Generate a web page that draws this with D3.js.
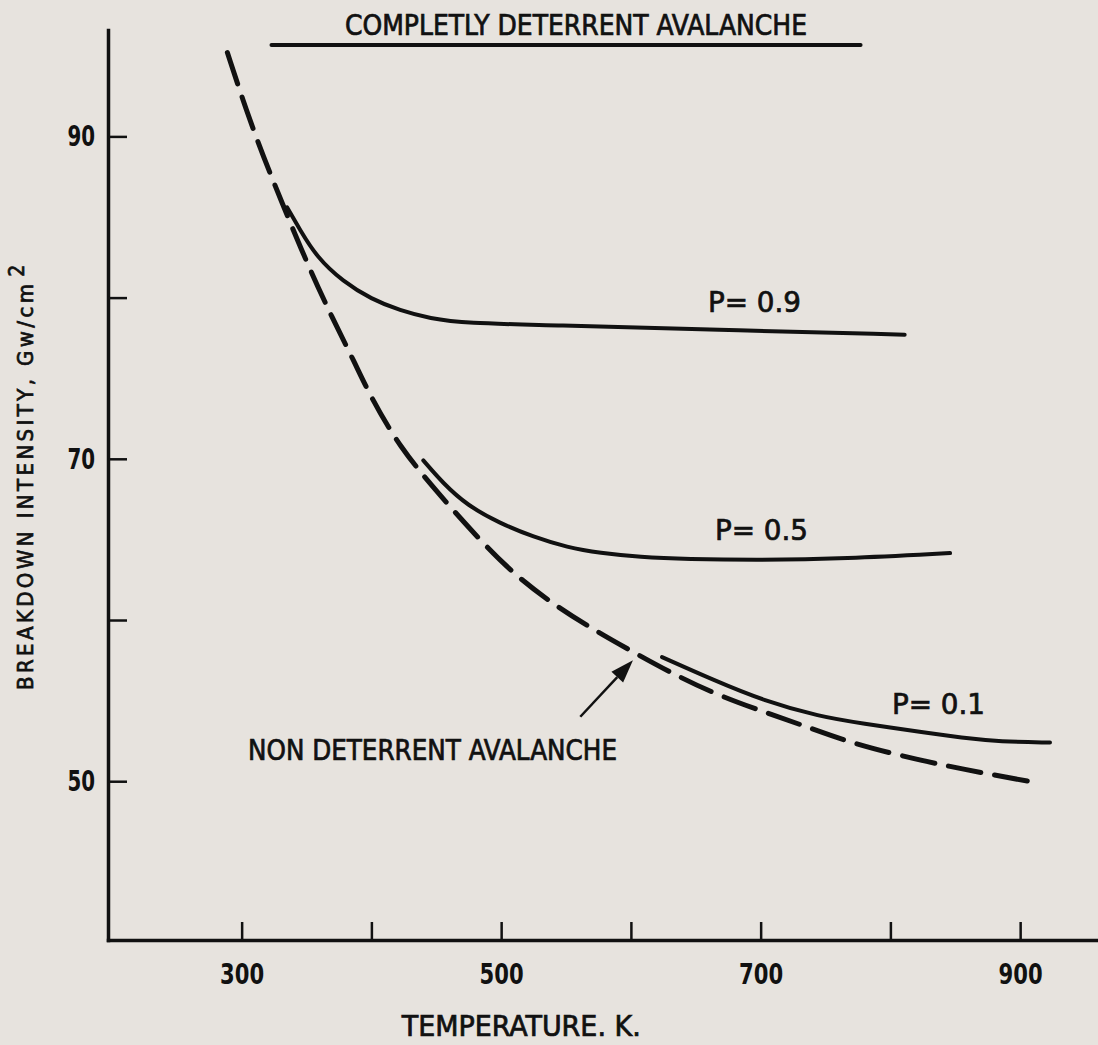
<!DOCTYPE html>
<html>
<head>
<meta charset="utf-8">
<script src="https://cdn.jsdelivr.net/npm/d3@7"></script>
<style>
  html, body { margin: 0; padding: 0; background: #e7e3de; }
  svg { display: block; }
  text { font-family: "DejaVu Sans Condensed", "Liberation Sans Narrow", sans-serif; fill: #111; }
  .lbl { stroke: #111; stroke-width: 0.7px; }
</style>
</head>
<body>
<svg id="chart" width="1098" height="1045"></svg>
<script>
// ---- data ----
const xTickValues = [300, 400, 500, 600, 700, 800, 900];
const xTickLabels = ["300", "", "500", "", "700", "", "900"];
const yTickValues = [50, 60, 70, 80, 90];
const yTickLabels = ["50", "", "70", "", "90"];

// Non deterrent avalanche (dashed)
const ndT = [289, 304, 317, 330, 350, 370, 387, 399, 422, 451, 482, 509, 538, 569, 602, 636, 671, 710, 738, 769, 807, 846, 879, 913];
const ndI = [95.2, 91.5, 88.7, 86.1, 82.2, 78.7, 76.0, 73.9, 70.7, 67.9, 65.1, 62.9, 61.1, 59.5, 58.0, 56.5, 55.2, 54.1, 53.3, 52.4, 51.6, 50.9, 50.4, 49.9];

// P = 0.9
const p9T = [335, 345, 358, 378, 400, 422, 445, 473, 537, 665, 811];
const p9I = [85.6, 84.2, 82.5, 81.0, 79.9, 79.2, 78.7, 78.4, 78.3, 78.0, 77.7];

// P = 0.5
const p5T = [440, 455, 474, 499, 525, 551, 576, 607, 643, 700, 764, 846];
const p5I = [69.9, 68.5, 67.1, 66.0, 65.15, 64.5, 64.15, 63.9, 63.78, 63.72, 63.8, 64.15];

// P = 0.1
const p1T = [624, 663, 702, 746, 777, 828, 854, 885, 923];
const p1I = [57.7, 56.3, 55.0, 54.0, 53.6, 53.0, 52.7, 52.45, 52.4];

// Completely deterrent avalanche bar (T range, level)
const cdT = [323, 777];
const cdI = 95.67;

// Arrow for non deterrent label (tail -> tip)
const arrowT = [561, 601.6];
const arrowI = [54.0, 57.5];

const curveLabels = ["P= 0.9", "P= 0.5", "P= 0.1"];
const curveLabelT = [659.4, 664.8, 801.2];
const curveLabelI = [79.1, 64.96, 54.17];

// ---- drawing ----
const svg = d3.select("#chart");
svg.append("rect").attr("width", 1098).attr("height", 1045).attr("fill", "#e7e3de");

const x = d3.scaleLinear().domain([197, 960]).range([108, 1098]);
const y = d3.scaleLinear().domain([40.15, 96.6]).range([940, 30]);

const ink = "#111";

// axes
const xAxis = d3.axisBottom(x)
  .tickValues(xTickValues)
  .tickFormat((d, i) => xTickLabels[i])
  .tickSizeInner(-18).tickSizeOuter(0).tickPadding(23);
const gx = svg.append("g").attr("transform", `translate(0,${y(40.15)})`).call(xAxis);
gx.select(".domain").attr("stroke", ink).attr("stroke-width", 3.5);
gx.selectAll(".tick line").attr("stroke", ink).attr("stroke-width", 2.5);
gx.selectAll(".tick text").attr("font-size", 29).attr("font-weight", "bold").attr("fill", ink)
  .attr("font-family", "DejaVu Sans Condensed")
  .attr("textLength", d => xTickLabels[xTickValues.indexOf(d)].length * 14.7)
  .attr("lengthAdjust", "spacingAndGlyphs");

const yAxis = d3.axisLeft(y)
  .tickValues(yTickValues)
  .tickFormat((d, i) => yTickLabels[i])
  .tickSizeInner(-19).tickSizeOuter(0).tickPadding(13);
const gy = svg.append("g").attr("transform", `translate(${x(197)},0)`).call(yAxis);
gy.select(".domain").attr("stroke", ink).attr("stroke-width", 3.5);
gy.selectAll(".tick line").attr("stroke", ink).attr("stroke-width", 2.5);
gy.selectAll(".tick text").attr("font-size", 29).attr("font-weight", "bold").attr("fill", ink)
  .attr("font-family", "DejaVu Sans Condensed")
  .attr("textLength", d => yTickLabels[yTickValues.indexOf(d)].length * 13.8)
  .attr("lengthAdjust", "spacingAndGlyphs");
svg.selectAll(".domain").attr("stroke-linecap", "square");

// axis titles
svg.append("text").attr("class", "lbl")
  .attr("x", x(515.5)).attr("y", 1036)
  .attr("text-anchor", "middle")
  .attr("font-size", 28)
  .attr("textLength", 239).attr("lengthAdjust", "spacingAndGlyphs")
  .text("TEMPERATURE. K.");

const yl = svg.append("text").attr("class", "lbl")
  .attr("transform", "translate(33,690) rotate(-90)")
  .attr("font-size", 22);
yl.append("tspan").attr("textLength", 406).attr("lengthAdjust", "spacing").text("BREAKDOWN INTENSITY, Gw/cm");
yl.append("tspan").attr("dx", 4).attr("dy", -9).attr("font-size", 21).text("2");

// curves
const line = d3.line().x(d => x(d[0])).y(d => y(d[1])).curve(d3.curveBasis);
const zip = (a, b) => a.map((v, i) => [v, b[i]]);

svg.append("path").datum(zip(ndT, ndI))
  .attr("d", line).attr("fill", "none").attr("stroke", ink)
  .attr("stroke-width", 5).attr("stroke-dasharray", "33,14").attr("stroke-linecap", "round");

[[p9T, p9I], [p5T, p5I], [p1T, p1I]].forEach(([t, v]) => {
  svg.append("path").datum(zip(t, v))
    .attr("d", line).attr("fill", "none").attr("stroke", ink)
    .attr("stroke-width", 4).attr("stroke-linecap", "round");
});

// completely deterrent bar
svg.append("line")
  .attr("x1", x(cdT[0])).attr("x2", x(cdT[1]))
  .attr("y1", y(cdI)).attr("y2", y(cdI))
  .attr("stroke", ink).attr("stroke-width", 4).attr("stroke-linecap", "round");
svg.append("text").attr("class", "lbl")
  .attr("x", x(557.7)).attr("y", y(cdI) - 10)
  .attr("text-anchor", "middle")
  .attr("font-size", 28)
  .attr("textLength", 462).attr("lengthAdjust", "spacingAndGlyphs")
  .text("COMPLETLY DETERRENT AVALANCHE");

// curve labels
curveLabels.forEach((s, i) => {
  svg.append("text").attr("class", "lbl")
    .attr("x", x(curveLabelT[i])).attr("y", y(curveLabelI[i]))
    .attr("font-size", 29)
    .attr("textLength", 93).attr("lengthAdjust", "spacingAndGlyphs")
    .text(s);
});

// non deterrent label + arrow
svg.append("text").attr("class", "lbl")
  .attr("x", x(304.9)).attr("y", y(51.32))
  .attr("font-size", 28)
  .attr("textLength", 369).attr("lengthAdjust", "spacingAndGlyphs")
  .text("NON DETERRENT AVALANCHE");

const ax0 = x(arrowT[0]), ay0 = y(arrowI[0]), ax1 = x(arrowT[1]), ay1 = y(arrowI[1]);
const ang = Math.atan2(ay1 - ay0, ax1 - ax0);
const headLen = 23, headW = 8;
const bx = ax1 - headLen * Math.cos(ang), by = ay1 - headLen * Math.sin(ang);
svg.append("line").attr("x1", ax0).attr("y1", ay0).attr("x2", bx).attr("y2", by)
  .attr("stroke", ink).attr("stroke-width", 2.5);
svg.append("path")
  .attr("d", `M${ax1},${ay1} L${bx - headW * Math.sin(ang)},${by + headW * Math.cos(ang)} L${bx + headW * Math.sin(ang)},${by - headW * Math.cos(ang)} Z`)
  .attr("fill", ink);
</script>
</body>
</html>
